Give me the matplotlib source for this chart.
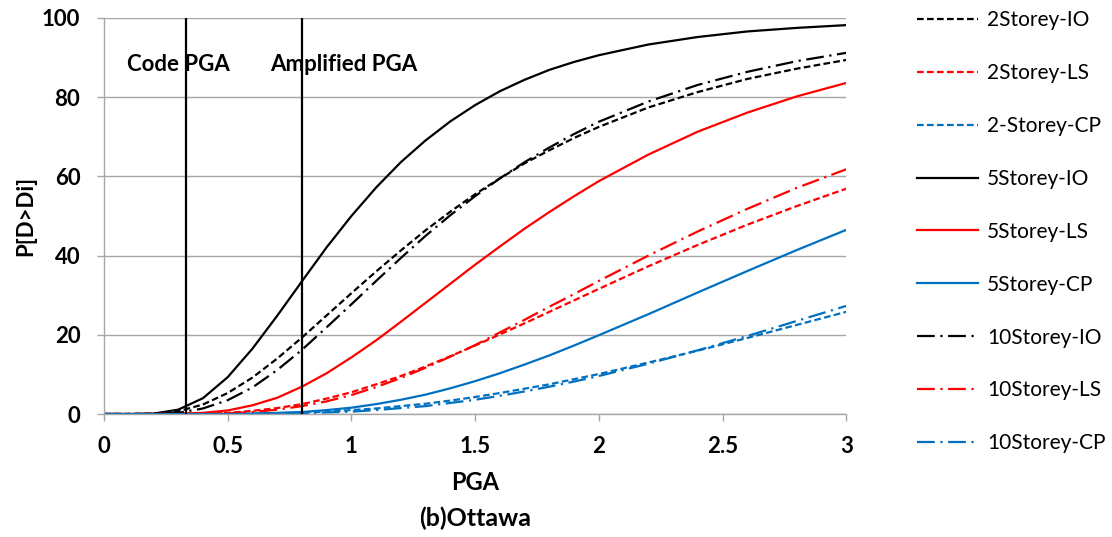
import matplotlib
matplotlib.use("Agg")
import matplotlib.pyplot as plt

plt.rcParams['font.family'] = ['Lato', 'DejaVu Sans']

# PGA grid (g) and exceedance probabilities (%)
pga = [0, 0.1, 0.2, 0.3, 0.4, 0.5, 0.6, 0.7, 0.8, 0.9, 1.0, 1.1, 1.2, 1.3, 1.4,
       1.5, 1.6, 1.7, 1.8, 1.9, 2.0, 2.2, 2.4, 2.6, 2.8, 3.0]

s2_io = [0, 0, 0.1, 0.7, 2.4, 5.3, 9.2, 14.0, 19.3, 24.9, 30.5, 36.0, 41.3, 46.4, 51.1,
         55.5, 59.5, 63.3, 66.6, 69.7, 72.5, 77.4, 81.3, 84.6, 87.2, 89.4]
s2_ls = [0, 0, 0, 0, 0.1, 0.3, 0.8, 1.5, 2.5, 3.9, 5.5, 7.5, 9.6, 12.0, 14.6,
         17.3, 20.1, 22.9, 25.8, 28.7, 31.6, 37.3, 42.7, 47.8, 52.5, 56.9]
s2_cp = [0, 0, 0, 0, 0, 0, 0.1, 0.2, 0.4, 0.6, 1.0, 1.4, 2.0, 2.6, 3.4,
         4.3, 5.3, 6.4, 7.5, 8.8, 10.1, 13.0, 16.0, 19.2, 22.5, 25.8]
s5_io = [0, 0, 0.1, 1.1, 4.0, 9.3, 16.5, 24.8, 33.5, 42.1, 50.0, 57.2, 63.6, 69.1, 73.9,
         78.0, 81.5, 84.4, 86.9, 88.9, 90.6, 93.3, 95.2, 96.6, 97.5, 98.2]
s5_ls = [0, 0, 0, 0.1, 0.3, 0.9, 2.2, 4.1, 6.9, 10.3, 14.3, 18.6, 23.3, 28.1, 32.9,
         37.7, 42.3, 46.8, 51.0, 55.0, 58.8, 65.5, 71.3, 76.1, 80.2, 83.6]
s5_cp = [0, 0, 0, 0, 0, 0, 0.1, 0.3, 0.5, 1.0, 1.6, 2.5, 3.6, 4.9, 6.5,
         8.3, 10.3, 12.5, 14.8, 17.3, 19.9, 25.2, 30.7, 36.1, 41.4, 46.5]
s10_io = [0, 0, 0, 0.3, 1.4, 3.5, 6.7, 11.1, 16.2, 21.9, 27.7, 33.6, 39.4, 45.0, 50.2,
          55.0, 59.5, 63.6, 67.3, 70.7, 73.8, 78.9, 83.1, 86.4, 89.1, 91.2]
s10_ls = [0, 0, 0, 0, 0.1, 0.2, 0.5, 1.1, 2.0, 3.2, 4.8, 6.8, 9.1, 11.7, 14.5,
          17.4, 20.6, 23.8, 27.1, 30.3, 33.6, 40.0, 46.1, 51.8, 57.1, 61.8]
s10_cp = [0, 0, 0, 0, 0, 0, 0, 0.1, 0.2, 0.4, 0.6, 1.0, 1.5, 2.0, 2.8,
          3.6, 4.6, 5.7, 6.9, 8.2, 9.6, 12.7, 16.1, 19.7, 23.5, 27.3]

labels = ["2Storey-IO", "2Storey-LS", "2-Storey-CP",
          "5Storey-IO", "5Storey-LS", "5Storey-CP",
          "10Storey-IO", "10Storey-LS", "10Storey-CP"]
code_pga = 0.33
amp_pga = 0.80

BLACK, RED, BLUE = "#000000", "#FF0000", "#0070C0"
DASH = (3, 1.5)
DASHDOT = (8, 2.5, 1, 2.5)

series = [
    (s2_io, BLACK, DASH), (s2_ls, RED, DASH), (s2_cp, BLUE, DASH),
    (s5_io, BLACK, None), (s5_ls, RED, None), (s5_cp, BLUE, None),
    (s10_io, BLACK, DASHDOT), (s10_ls, RED, DASHDOT), (s10_cp, BLUE, DASHDOT),
]

fig = plt.figure(figsize=(11.12, 5.37), dpi=100)
ax = fig.add_axes([0.0935, 0.229, 0.6675, 0.7375])

# reference lines
ax.plot([code_pga, code_pga], [0, 100], color="black", lw=1.6, zorder=3)
ax.plot([amp_pga, amp_pga], [0, 100], color="black", lw=1.6, zorder=3)
ax.text(0.093, 88.3, "Code PGA", fontsize=16, fontweight="bold", va="center", zorder=4)
ax.text(0.67, 88.3, "Amplified PGA", fontsize=16, fontweight="bold", va="center", zorder=4)

handles = []
for (vals, col, dash), lab in zip(series, labels):
    ln, = ax.plot(pga, vals, color=col, lw=1.6, label=lab, zorder=2)
    if dash is not None:
        ln.set_dashes(dash)
    handles.append(ln)

ax.set_xlim(0, 3)
ax.set_ylim(0, 100)
ax.set_xticks([0, 0.5, 1, 1.5, 2, 2.5, 3])
ax.set_xticklabels(["0", "0.5", "1", "1.5", "2", "2.5", "3"])
ax.set_yticks(range(0, 101, 20))
ax.yaxis.grid(True, color="#A6A6A6", lw=1.0)
ax.set_axisbelow(True)
for s in ("top", "right"):
    ax.spines[s].set_visible(False)
for s in ("left", "bottom"):
    ax.spines[s].set_color("#A6A6A6")
    ax.spines[s].set_linewidth(1.0)
ax.tick_params(axis="both", colors="#A6A6A6", length=5, width=1.0, labelcolor="black",
               labelsize=16)
ax.tick_params(axis="x", pad=11)
ax.tick_params(axis="y", pad=12)
for t in ax.get_xticklabels() + ax.get_yticklabels():
    t.set_fontweight("bold")

ax.set_ylabel("P[D>Di]", fontsize=16, fontweight="bold", va="center")
ax.yaxis.set_label_coords(-0.105, 0.5)
ax.set_xlabel("PGA", fontsize=17, fontweight="bold", va="center")
ax.xaxis.set_label_coords(0.5, -0.174)
fig.text(0.4275, 1 - 518 / 537, "(b)Ottawa", fontsize=18, fontweight="bold",
         ha="center", va="center")

ax.legend(handles=handles, loc="upper left", bbox_to_anchor=(1.0957, 1.02), frameon=False,
          fontsize=15, handlelength=2.93, handletextpad=0.43, labelspacing=1.58,
          borderpad=0, borderaxespad=0)

fig.savefig("out.png", dpi=100, facecolor="white")
plt.close(fig)
